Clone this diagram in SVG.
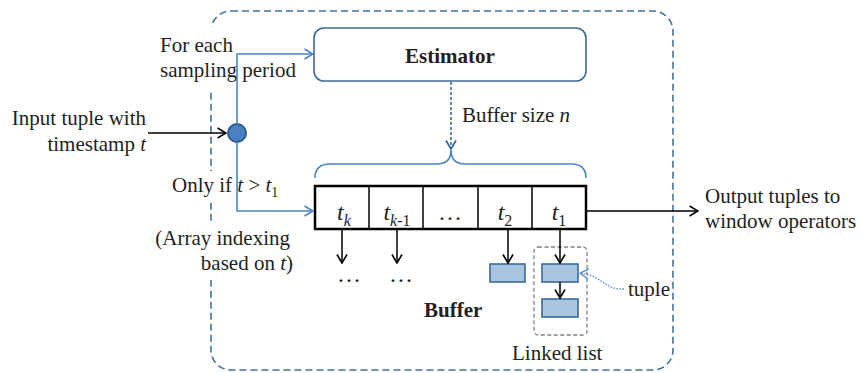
<svg xmlns="http://www.w3.org/2000/svg" width="860" height="373" viewBox="0 0 860 373">
<style>
text{font-family:"Liberation Serif","Times New Roman",serif;font-size:21px;fill:#231f20}
.b{font-weight:bold}
.i{font-style:italic}
.lbl{font-size:24px}
.cell{fill:#fff;stroke:#000;stroke-width:2.5}
.blk{stroke:#000;stroke-width:1.5;fill:none}
.blue{stroke:#4a84c4;stroke-width:1.6;fill:none}
.tup{fill:#a9c4e0;stroke:#3d6a96;stroke-width:1.6}
</style>
<defs>
<marker id="ak" viewBox="0 0 10 12" refX="9.5" refY="6" markerWidth="10" markerHeight="12" markerUnits="userSpaceOnUse" orient="auto"><path d="M1,1 L9.5,6 L1,11" fill="none" stroke="#000" stroke-width="1.6"/></marker>
<marker id="ab" viewBox="0 0 10 12" refX="9.5" refY="6" markerWidth="10" markerHeight="12" markerUnits="userSpaceOnUse" orient="auto"><path d="M1,1 L9.5,6 L1,11" fill="none" stroke="#4a84c4" stroke-width="1.6"/></marker>
<marker id="ad" viewBox="0 0 10 12" refX="9.5" refY="6" markerWidth="10" markerHeight="12" markerUnits="userSpaceOnUse" orient="auto"><path d="M1,1 L9.5,6 L1,11" fill="none" stroke="#2d5f91" stroke-width="1.6"/></marker>
<marker id="at" viewBox="0 0 10 12" refX="9.5" refY="6" markerWidth="10" markerHeight="12" markerUnits="userSpaceOnUse" orient="auto"><path d="M1,1 L9.5,6 L1,11" fill="none" stroke="#5b8fd0" stroke-width="1.4"/></marker>
</defs>

<g id="container">
<rect x="211" y="11" width="462" height="359" rx="20" fill="none" stroke="#41709b" stroke-width="1.6" stroke-dasharray="7 4"/>
<rect x="203" y="27" width="16" height="64" fill="#fff"/>
<rect x="203" y="171" width="16" height="29" fill="#fff"/>
<rect x="203" y="223" width="16" height="57" fill="#fff"/>
</g>

<g id="labels-left">
<text x="160" y="52">For each</text>
<text x="160" y="77">sampling period</text>
<text x="146" y="125" text-anchor="end">Input tuple with</text>
<text x="146" y="151" text-anchor="end">timestamp <tspan class="i">t</tspan></text>
<text x="172" y="192">Only if <tspan class="i">t</tspan> &gt; <tspan class="i">t</tspan><tspan font-size="14" dy="5">1</tspan></text>
<text x="290" y="245" text-anchor="end">(Array indexing</text>
<text x="293" y="270" text-anchor="end">based on <tspan class="i">t</tspan>)</text>
</g>

<g id="estimator">
<rect x="314" y="28" width="272" height="53" rx="10" fill="#fff" stroke="#3d6a9b" stroke-width="1.6"/>
<text class="b" x="450" y="63" text-anchor="middle">Estimator</text>
</g>

<g id="buffer">
<rect class="cell" x="315" y="186" width="271" height="43"/>
<line class="blk" x1="369" y1="186" x2="369" y2="229" stroke-width="2.5"/>
<line class="blk" x1="423" y1="186" x2="423" y2="229" stroke-width="2.5"/>
<line class="blk" x1="478" y1="186" x2="478" y2="229" stroke-width="2.5"/>
<line class="blk" x1="532" y1="186" x2="532" y2="229" stroke-width="2.5"/>
<text class="lbl" x="344" y="220" text-anchor="middle"><tspan class="i">t</tspan><tspan class="i" font-size="16" dy="6">k</tspan></text>
<text class="lbl" x="397" y="220" text-anchor="middle"><tspan class="i">t</tspan><tspan font-size="16" dy="6"><tspan class="i">k</tspan>-1</tspan></text>
<text class="lbl" x="450" y="220" text-anchor="middle">…</text>
<text class="lbl" x="505" y="220" text-anchor="middle"><tspan class="i">t</tspan><tspan font-size="16" dy="6">2</tspan></text>
<text class="lbl" x="559" y="220" text-anchor="middle"><tspan class="i">t</tspan><tspan font-size="16" dy="6">1</tspan></text>
<text class="lbl" x="349" y="282" text-anchor="middle">…</text>
<text class="lbl" x="401" y="282" text-anchor="middle">…</text>
<text class="b" x="424" y="317">Buffer</text>
</g>

<g id="brace">
<path class="blue" d="M315,178 Q315,164 330,164 L437,164 Q451,164 451,150 Q451,164 465,164 L571,164 Q586,164 586,178"/>
<text x="462" y="122">Buffer size <tspan class="i">n</tspan></text>
</g>

<g id="linked-list">
<rect x="534" y="247" width="53" height="88" rx="4" fill="none" stroke="#808080" stroke-width="1.3" stroke-dasharray="4 2.5"/>
<rect class="tup" x="490" y="264" width="35" height="18"/>
<rect class="tup" x="542" y="264" width="36" height="18"/>
<rect class="tup" x="542" y="299" width="36" height="18"/>
<text x="512" y="360">Linked list</text>
<text x="628" y="296">tuple</text>
</g>

<g id="merge">
<circle cx="237" cy="133" r="9" fill="#4a7fc0" stroke="#2d5d8e" stroke-width="2"/>
</g>

<g id="outputs">
<text x="705" y="203">Output tuples to</text>
<text x="705" y="228">window operators</text>
</g>

<g id="connectors">
<path class="blue" d="M237,124 L237,54 L313,54" marker-end="url(#ab)"/>
<path class="blue" d="M237,142 L237,211 L313,211" marker-end="url(#ab)"/>
<line class="blk" x1="148" y1="133" x2="226" y2="133" marker-end="url(#ak)"/>
<line x1="451" y1="82" x2="451" y2="149" stroke="#2d5f91" stroke-width="1.5" stroke-dasharray="3 2" marker-end="url(#ad)"/>
<line class="blk" x1="587" y1="211" x2="698" y2="211" marker-end="url(#ak)"/>
<line class="blk" x1="342" y1="229" x2="342" y2="263" marker-end="url(#ak)"/>
<line class="blk" x1="397" y1="229" x2="397" y2="263" marker-end="url(#ak)"/>
<line class="blk" x1="508" y1="229" x2="508" y2="263" marker-end="url(#ak)"/>
<line class="blk" x1="560" y1="229" x2="560" y2="263" marker-end="url(#ak)"/>
<line class="blk" x1="560" y1="282" x2="560" y2="298" marker-end="url(#ak)"/>
<path d="M624,289 C604,290 602,275 580,273" fill="none" stroke="#5b8fd0" stroke-width="1.4" stroke-dasharray="1.5 1.5" marker-end="url(#at)"/>
</g>
</svg>
